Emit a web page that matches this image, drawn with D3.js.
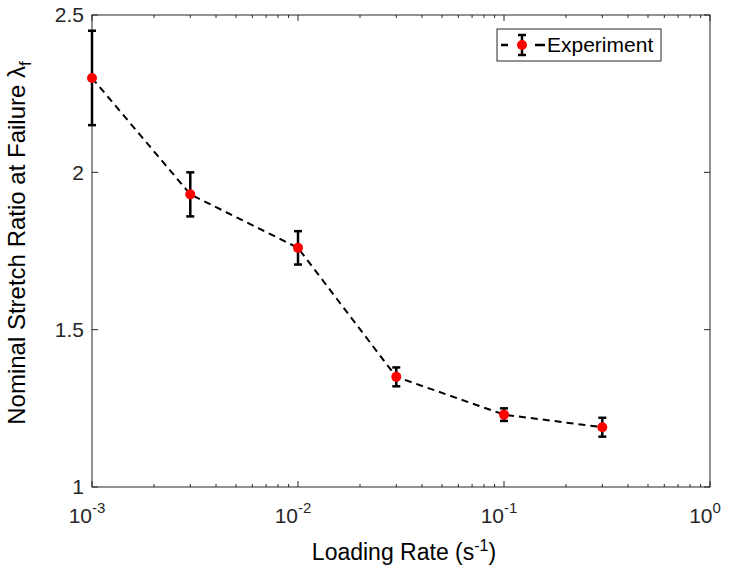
<!DOCTYPE html>
<html>
<head>
  <meta charset="utf-8">
  <title>Stretch ratio vs loading rate</title>
  <script src="https://d3js.org/d3.v7.min.js"></script>
  <style>
    body { margin: 0; background: #fff; }
    text { font-family: "Liberation Sans", Arial, sans-serif; }
  </style>
</head>
<body>
<div id="chart"></div>
<script>
  // data
  const rates = [0.001, 0.003, 0.01, 0.03, 0.1, 0.3];
  const stretch = [2.30, 1.93, 1.76, 1.35, 1.23, 1.19];
  const errors = [0.15, 0.07, 0.053, 0.03, 0.02, 0.03];
  const xTicks = [1e-3, 1e-2, 1e-1, 1e0];
  const xTickExp = ['-3', '-2', '-1', '0'];
  const yTicks = [1, 1.5, 2, 2.5];
  const legendLabel = 'Experiment';

  const W = 730, H = 575;
  const margin = {top: 15, right: 20, bottom: 88, left: 92};
  const w = W - margin.left - margin.right;
  const h = H - margin.top - margin.bottom;
  const axisColor = '#262626';

  const svg = d3.select('#chart').append('svg')
      .attr('width', W).attr('height', H);
  const g = svg.append('g')
      .attr('transform', `translate(${margin.left},${margin.top})`);

  const x = d3.scaleLog().domain([1e-3, 1]).range([0, w]);
  const y = d3.scaleLinear().domain([1, 2.5]).range([h, 0]);

  // minor ticks for log axis
  const minor = [];
  for (let e = -3; e < 0; e++) {
    for (let k = 2; k <= 9; k++) minor.push(k * Math.pow(10, e));
  }

  // box
  g.append('rect')
    .attr('width', w).attr('height', h)
    .attr('fill', 'none').attr('stroke', axisColor).attr('stroke-width', 1);

  // ticks (inward, on all four sides)
  const tickG = g.append('g').attr('stroke', axisColor).attr('stroke-width', 1);
  xTicks.forEach(t => {
    tickG.append('line').attr('x1', x(t)).attr('x2', x(t)).attr('y1', h).attr('y2', h - 6);
    tickG.append('line').attr('x1', x(t)).attr('x2', x(t)).attr('y1', 0).attr('y2', 6);
  });
  minor.forEach(t => {
    tickG.append('line').attr('x1', x(t)).attr('x2', x(t)).attr('y1', h).attr('y2', h - 3);
    tickG.append('line').attr('x1', x(t)).attr('x2', x(t)).attr('y1', 0).attr('y2', 3);
  });
  yTicks.forEach(t => {
    tickG.append('line').attr('x1', 0).attr('x2', 6).attr('y1', y(t)).attr('y2', y(t));
    tickG.append('line').attr('x1', w).attr('x2', w - 6).attr('y1', y(t)).attr('y2', y(t));
  });

  // y tick labels
  g.selectAll('.ylab').data(yTicks).enter().append('text')
    .attr('x', -8).attr('y', d => y(d))
    .attr('dy', '0.35em')
    .attr('text-anchor', 'end')
    .attr('font-size', '21px').attr('fill', axisColor)
    .text(d => d3.format('')(d));

  // x tick labels 10^n
  xTicks.forEach((t, i) => {
    const tx = g.append('text')
      .attr('x', x(t) - 5).attr('y', h + 36)
      .attr('text-anchor', 'middle')
      .attr('font-size', '21px').attr('fill', axisColor);
    tx.append('tspan').text('10');
    tx.append('tspan').attr('dy', -10).attr('font-size', '15px').text(xTickExp[i]);
  });

  // axis titles
  const xt = g.append('text')
    .attr('x', w / 2 + 3).attr('y', h + 73)
    .attr('text-anchor', 'middle')
    .attr('font-size', '23px').attr('fill', '#000');
  xt.append('tspan').text('Loading Rate (s');
  xt.append('tspan').attr('dy', -9).attr('font-size', '16px').text('-1');
  xt.append('tspan').attr('dy', 9).text(')');

  const yt = g.append('text')
    .attr('transform', `translate(${-67},${h / 2 - 8}) rotate(-90)`)
    .attr('text-anchor', 'middle')
    .attr('font-size', '24px').attr('fill', '#000');
  yt.append('tspan').text('Nominal Stretch Ratio at Failure ');
  yt.append('tspan').text('λ');
  yt.append('tspan').attr('dy', 6).attr('font-size', '17px').text('f');

  const data = rates.map((r, i) => ({r, v: stretch[i], e: errors[i]}));

  // dashed line
  g.append('path').datum(data)
    .attr('fill', 'none').attr('stroke', '#000')
    .attr('stroke-width', 2).attr('stroke-dasharray', '7,5')
    .attr('d', d3.line().x(d => x(d.r)).y(d => y(d.v)));

  // error bars
  const eb = g.selectAll('.eb').data(data).enter().append('g')
    .attr('stroke', '#000').attr('stroke-width', 2.5);
  eb.append('line')
    .attr('x1', d => x(d.r)).attr('x2', d => x(d.r))
    .attr('y1', d => y(d.v - d.e)).attr('y2', d => y(d.v + d.e));
  eb.append('line')
    .attr('x1', d => x(d.r) - 4).attr('x2', d => x(d.r) + 4)
    .attr('y1', d => y(d.v + d.e)).attr('y2', d => y(d.v + d.e));
  eb.append('line')
    .attr('x1', d => x(d.r) - 4).attr('x2', d => x(d.r) + 4)
    .attr('y1', d => y(d.v - d.e)).attr('y2', d => y(d.v - d.e));

  // markers
  g.selectAll('.pt').data(data).enter().append('circle')
    .attr('cx', d => x(d.r)).attr('cy', d => y(d.v))
    .attr('r', 5).attr('fill', '#ff0000');

  // legend
  const lg = svg.append('g').attr('transform', 'translate(497,29)');
  lg.append('rect').attr('width', 164).attr('height', 32)
    .attr('fill', '#fff').attr('stroke', axisColor).attr('stroke-width', 1);
  lg.append('line').attr('x1', 4).attr('x2', 11).attr('y1', 16).attr('y2', 16)
    .attr('stroke', '#000').attr('stroke-width', 2.5);
  lg.append('line').attr('x1', 38).attr('x2', 48).attr('y1', 16).attr('y2', 16)
    .attr('stroke', '#000').attr('stroke-width', 2.5);
  lg.append('line').attr('x1', 25).attr('x2', 25).attr('y1', 6).attr('y2', 26)
    .attr('stroke', '#000').attr('stroke-width', 2.5);
  lg.append('line').attr('x1', 21).attr('x2', 29).attr('y1', 6).attr('y2', 6)
    .attr('stroke', '#000').attr('stroke-width', 2.5);
  lg.append('line').attr('x1', 21).attr('x2', 29).attr('y1', 26).attr('y2', 26)
    .attr('stroke', '#000').attr('stroke-width', 2.5);
  lg.append('circle').attr('cx', 25).attr('cy', 16).attr('r', 5).attr('fill', '#ff0000');
  lg.append('text').attr('x', 50).attr('y', 16).attr('dy', '0.35em')
    .attr('font-size', '21px').attr('fill', '#000').text(legendLabel);
</script>
</body>
</html>
